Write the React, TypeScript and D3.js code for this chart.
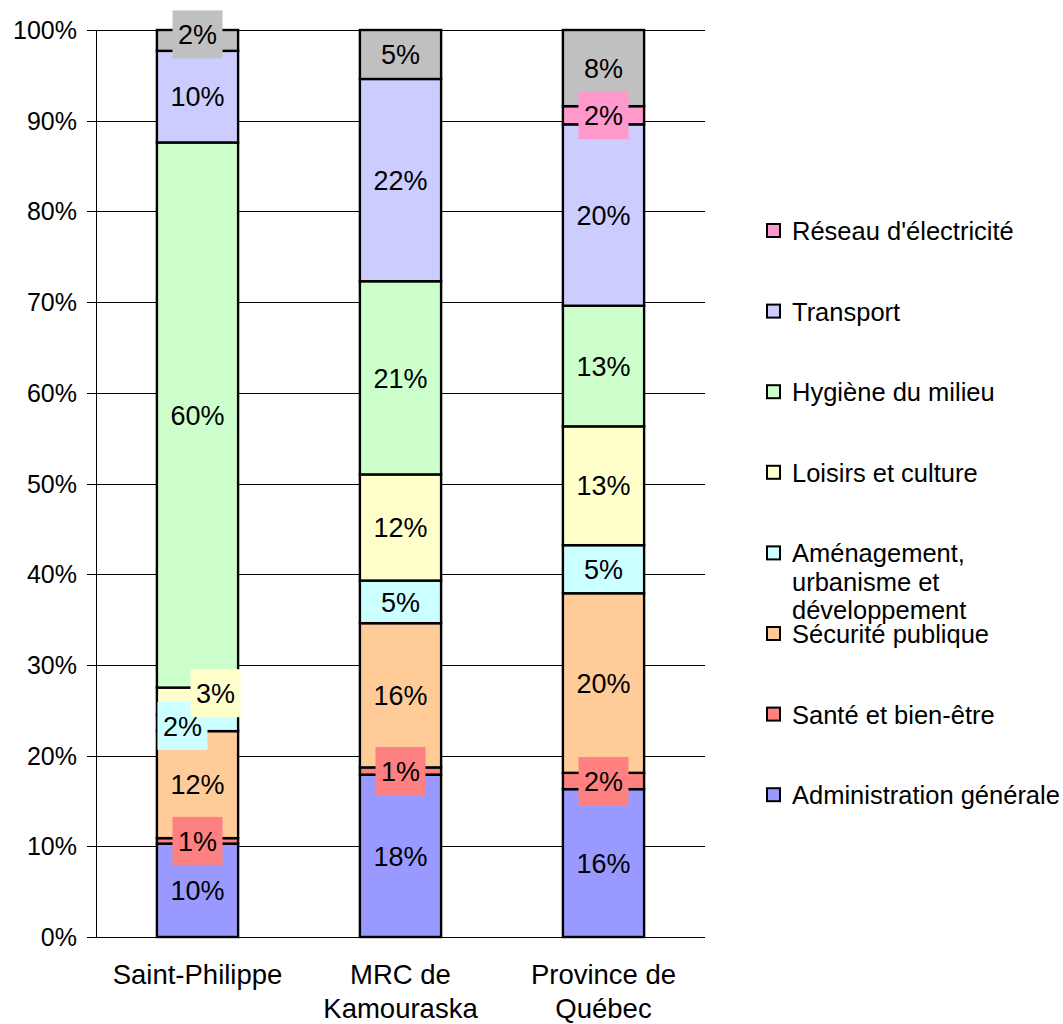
import React from "react";
import * as d3 from "d3";

const categories = [["Saint-Philippe"], ["MRC de", "Kamouraska"], ["Province de", "Québec"]];
const categoryKeys = ["Saint-Philippe", "MRC de Kamouraska", "Province de Québec"];

const seriesNames = [
  "Administration générale",
  "Santé et bien-être",
  "Sécurité publique",
  "Aménagement, urbanisme et développement",
  "Loisirs et culture",
  "Hygiène du milieu",
  "Transport",
  "Réseau d'électricité",
  "Autres",
];
const seriesColors = ["#9999FF", "#FF8080", "#FFCC99", "#CCFFFF", "#FFFFCC", "#CCFFCC", "#CCCCFF", "#FF99CC", "#C0C0C0"];

// percentages per category, ordered as seriesNames
const saintPhilippe = [10.3, 0.6, 11.8, 1.8, 3.0, 60.1, 10.1, 0, 2.3];
const mrcKamouraska = [17.9, 0.8, 15.9, 4.7, 11.7, 21.3, 22.3, 0, 5.4];
const provinceQuebec = [16.3, 1.8, 19.8, 5.3, 13.1, 13.3, 20.0, 2.0, 8.4];
const values = [saintPhilippe, mrcKamouraska, provinceQuebec];

const yTicks = [0, 10, 20, 30, 40, 50, 60, 70, 80, 90, 100];

// legend entries, top to bottom (series index)
const legendOrder = [7, 6, 5, 4, 3, 2, 1, 0];
const legendLines = [
  ["Réseau d'électricité"],
  ["Transport"],
  ["Hygiène du milieu"],
  ["Loisirs et culture"],
  ["Aménagement,", "urbanisme et", "développement"],
  ["Sécurité publique"],
  ["Santé et bien-être"],
  ["Administration générale"],
];

// manual label nudges [category]-[series] -> [dx, dy]
const labelNudge: Record<string, [number, number]> = {
  "0-8": [0, -6],
  "0-4": [18, -8],
  "0-3": [-15, 3],
};

const FONT = "'Liberation Sans', Arial, sans-serif";

export default function App() {
  const W = 1063, H = 1024;
  const x0 = 96, x1 = 705, yTop = 30, yBot = 937;
  const x = d3.scaleBand<string>().domain(categoryKeys).range([x0, x1]).paddingInner(0.6).paddingOuter(0.3);
  const y = d3.scaleLinear().domain([0, 100]).range([yBot, yTop]);
  const fmt = (v: number) => d3.format(".0f")(v) + "%";

  const segs: any[] = [];
  values.forEach((vals, ci) => {
    let acc = 0;
    vals.forEach((v, si) => {
      if (v > 0) segs.push({ ci, si, y0: acc, y1: acc + v, v });
      acc += v;
    });
  });

  const bw = x.bandwidth();
  const labelFont = 27;
  const charW = (s: string) => s.split("").reduce((a, c) => a + (c === "%" ? 0.889 : 0.556), 0) * labelFont;

  return (
    <svg width={W} height={H} style={{ display: "block", position: "absolute", left: 0, top: 0 }} fontFamily={FONT}>
      <rect x={0} y={0} width={W} height={H} fill="#fff" />
      {yTicks.map((t) => (
        <g key={t}>
          <line x1={x0 - 9} x2={x1} y1={Math.round(y(t)) + 0.5} y2={Math.round(y(t)) + 0.5} stroke="#000" strokeWidth={1} />
          <text x={77} y={y(t)} dy="0.36em" textAnchor="end" fontSize={25} fill="#000">{t}%</text>
        </g>
      ))}
      <line x1={x0 + 0.5} x2={x0 + 0.5} y1={yTop} y2={yBot} stroke="#000" strokeWidth={1} />
      {segs.map((s) => (
        <rect key={`r${s.ci}-${s.si}`} x={x(categoryKeys[s.ci])} y={y(s.y1)} width={bw} height={y(s.y0) - y(s.y1)}
          fill={seriesColors[s.si]} stroke="#000" strokeWidth={2.4} />
      ))}
      {segs.map((s) => {
        const txt = fmt(s.v);
        const nud = labelNudge[`${s.ci}-${s.si}`] || [0, 0];
        const cx = (x(categoryKeys[s.ci]) as number) + bw / 2 + nud[0];
        const cy = (y(s.y0) + y(s.y1)) / 2 + nud[1];
        const tw = charW(txt);
        const segH = y(s.y0) - y(s.y1);
        return (
          <g key={`l${s.ci}-${s.si}`}>
            {segH < 30 && (
              <rect x={cx - tw / 2 - 5.5} y={cy - 24} width={tw + 11} height={48} fill={seriesColors[s.si]} />
            )}
            <text x={cx} y={cy} dy="0.36em" textAnchor="middle" fontSize={labelFont} fill="#000">{txt}</text>
          </g>
        );
      })}
      {categories.map((lines, ci) => (
        <text key={ci} x={(x(categoryKeys[ci]) as number) + bw / 2} y={984} textAnchor="middle" fontSize={27.5} fill="#000">
          {lines.map((l, li) => (
            <tspan key={li} x={(x(categoryKeys[ci]) as number) + bw / 2} dy={li === 0 ? 0 : 34}>{l}</tspan>
          ))}
        </text>
      ))}
      {legendOrder.map((si, i) => {
        const cy = 231 + i * 80.6;
        return (
          <g key={si}>
            <rect x={767} y={cy - 7} width={13} height={13} fill={seriesColors[si]} stroke="#000" strokeWidth={2} />
            <text x={792} y={cy + 9} fontSize={25.5} fill="#000">
              {legendLines[i].map((l, li) => (
                <tspan key={li} x={792} dy={li === 0 ? 0 : 28.5}>{l}</tspan>
              ))}
            </text>
          </g>
        );
      })}
    </svg>
  );
}
